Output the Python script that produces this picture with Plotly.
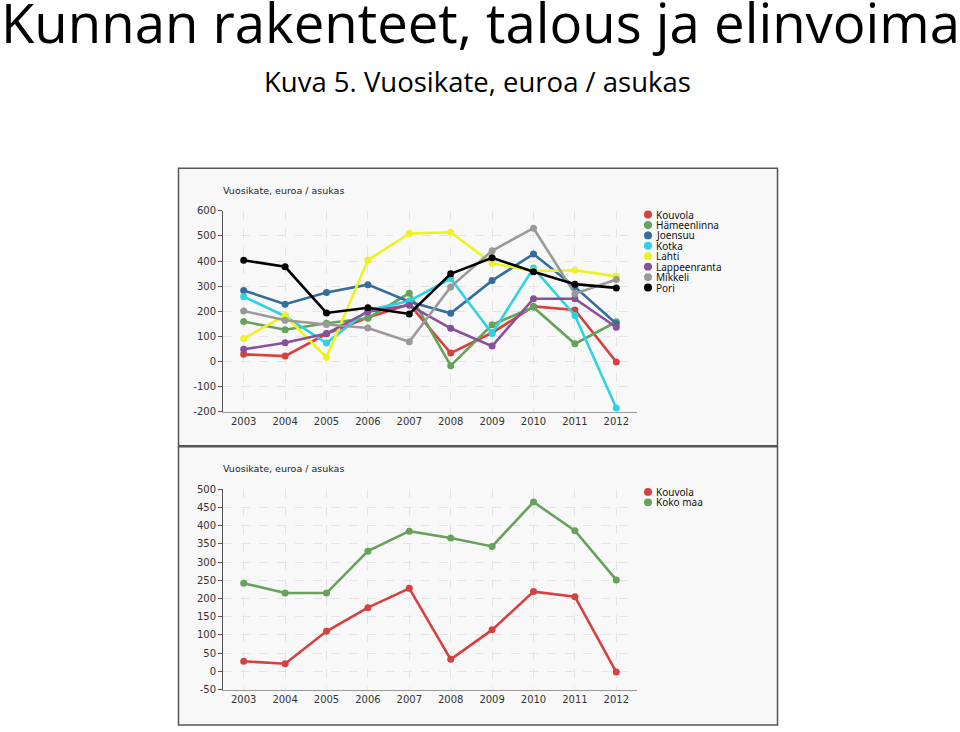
import plotly.graph_objects as go

years = [2003, 2004, 2005, 2006, 2007, 2008, 2009, 2010, 2011, 2012]

kouvola = [28, 21, 110, 175, 228, 33, 114, 219, 205, -2]
hameenlinna = [159, 126, 152, 172, 272, -17, 146, 216, 70, 158]
joensuu = [283, 228, 275, 306, 238, 192, 322, 428, 297, 150]
kotka = [258, 180, 73, 204, 241, 330, 111, 372, 183, -186]
lahti = [91, 183, 16, 404, 510, 515, 391, 361, 363, 339]
lappeenranta = [48, 74, 111, 198, 224, 132, 61, 250, 250, 136]
mikkeli = [201, 164, 147, 133, 78, 297, 441, 531, 270, 326]
pori = [403, 377, 193, 214, 189, 349, 413, 357, 308, 293]
koko_maa = [242, 215, 215, 330, 385, 366, 343, 465, 386, 251]

top_names = ["Kouvola", "Hämeenlinna", "Joensuu", "Kotka", "Lahti",
             "Lappeenranta", "Mikkeli", "Pori"]
top_values = [kouvola, hameenlinna, joensuu, kotka, lahti, lappeenranta, mikkeli, pori]
top_colors = ["#d6403f", "#66a25a", "#356e9c", "#2dd3e3", "#eef222",
              "#86509a", "#999999", "#000000"]
bottom_names = ["Kouvola", "Koko maa"]
bottom_values = [kouvola, koko_maa]
bottom_colors = ["#d6403f", "#66a25a"]

top_ticks = [-200, -100, 0, 100, 200, 300, 400, 500, 600]
bottom_ticks = [-50, 0, 50, 100, 150, 200, 250, 300, 350, 400, 450, 500]

title_text = "Kunnan rakenteet, talous ja elinvoima"
subtitle_text = "Kuva 5. Vuosikate, euroa / asukas"
panel_title = "Vuosikate, euroa / asukas"

W, H = 960, 732
def px(x):
    return x / W
def py(y):
    return 1 - y / H

fig = go.Figure()
for name, vals, col in zip(top_names, top_values, top_colors):
    fig.add_trace(go.Scatter(x=years, y=vals, name=name, mode="lines+markers",
                             line=dict(color=col, width=2.6),
                             marker=dict(color=col, size=7),
                             xaxis="x", yaxis="y", showlegend=False))
for name, vals, col in zip(bottom_names, bottom_values, bottom_colors):
    fig.add_trace(go.Scatter(x=years, y=vals, name=name, mode="lines+markers",
                             line=dict(color=col, width=2.6),
                             marker=dict(color=col, size=7),
                             xaxis="x2", yaxis="y2", showlegend=False))

tickfont = dict(family="DejaVu Sans", size=10, color="#333333")
common_x = dict(range=[2002.5, 2012.5], tickmode="array", tickvals=years,
                ticktext=[str(y) for y in years],
                showgrid=True, gridcolor="#e4e4e4", griddash="dash", gridwidth=1,
                showline=True, linecolor="#999999", linewidth=1,
                ticks="", tickfont=tickfont, zeroline=False, fixedrange=True)
common_y = dict(showgrid=True, gridcolor="#e4e4e4", griddash="dash", gridwidth=1,
                showline=True, linecolor="#555555", linewidth=1,
                ticks="outside", ticklen=4, tickcolor="#555555",
                tickfont=tickfont, zeroline=False, fixedrange=True, tickmode="array")

xd = [px(223), px(637)]
fig.update_layout(
    width=W, height=H,
    margin=dict(l=0, r=0, t=0, b=0),
    paper_bgcolor="white", plot_bgcolor="rgba(0,0,0,0)",
    showlegend=False,
    xaxis=dict(domain=xd, anchor="y", **common_x),
    yaxis=dict(domain=[py(412.3), py(208.3)], anchor="x", range=[-200, 600],
               tickvals=top_ticks, ticktext=[str(v) for v in top_ticks], **common_y),
    xaxis2=dict(domain=xd, anchor="y2", **common_x),
    yaxis2=dict(domain=[py(695), py(491.3)], anchor="x2", range=[-50, 500],
                tickvals=bottom_ticks, ticktext=[str(v) for v in bottom_ticks], **common_y),
)

# panel backgrounds
for y0, y1 in [(165, 447), (448, 731)]:
    fig.add_shape(type="rect", xref="paper", yref="paper",
                  x0=px(178.5), x1=px(777.5), y0=py(y1), y1=py(y0),
                  fillcolor="#f8f8f8", line=dict(color="#555555", width=1.5),
                  layer="below")

# custom compact legends
def add_legend(names, colors, y_start):
    for i, (n, c) in enumerate(zip(names, colors)):
        yy = y_start + i * 10.6
        fig.add_shape(type="circle", xref="paper", yref="paper",
                      x0=px(644), x1=px(652), y0=py(yy + 4), y1=py(yy - 4),
                      fillcolor=c, line=dict(width=0))
        fig.add_annotation(text=n, xref="paper", yref="paper",
                           x=px(654), y=py(yy), xanchor="left", yanchor="middle",
                           showarrow=False,
                           font=dict(family="Noto Sans", size=10, color="#111111"))

add_legend(top_names, top_colors, 212)
add_legend(bottom_names, bottom_colors, 494)

fig.add_annotation(text=title_text, xref="paper", yref="paper",
                   x=px(480), y=py(16), xanchor="center", yanchor="middle", showarrow=False,
                   font=dict(family="Open Sans", size=54.5, color="#000000"))
fig.add_annotation(text=subtitle_text, xref="paper", yref="paper",
                   x=px(477), y=py(77), xanchor="center", yanchor="middle", showarrow=False,
                   font=dict(family="Open Sans", size=27.5, color="#000000"))
for yy in [188, 470]:
    fig.add_annotation(text=panel_title, xref="paper", yref="paper",
                       x=px(221), y=py(yy), xanchor="left", yanchor="middle", showarrow=False,
                       font=dict(family="DejaVu Sans", size=9.5, color="#222222"))

fig.write_html("out.html", config={"displayModeBar": False},
               post_script="document.body.style.margin='0';")
